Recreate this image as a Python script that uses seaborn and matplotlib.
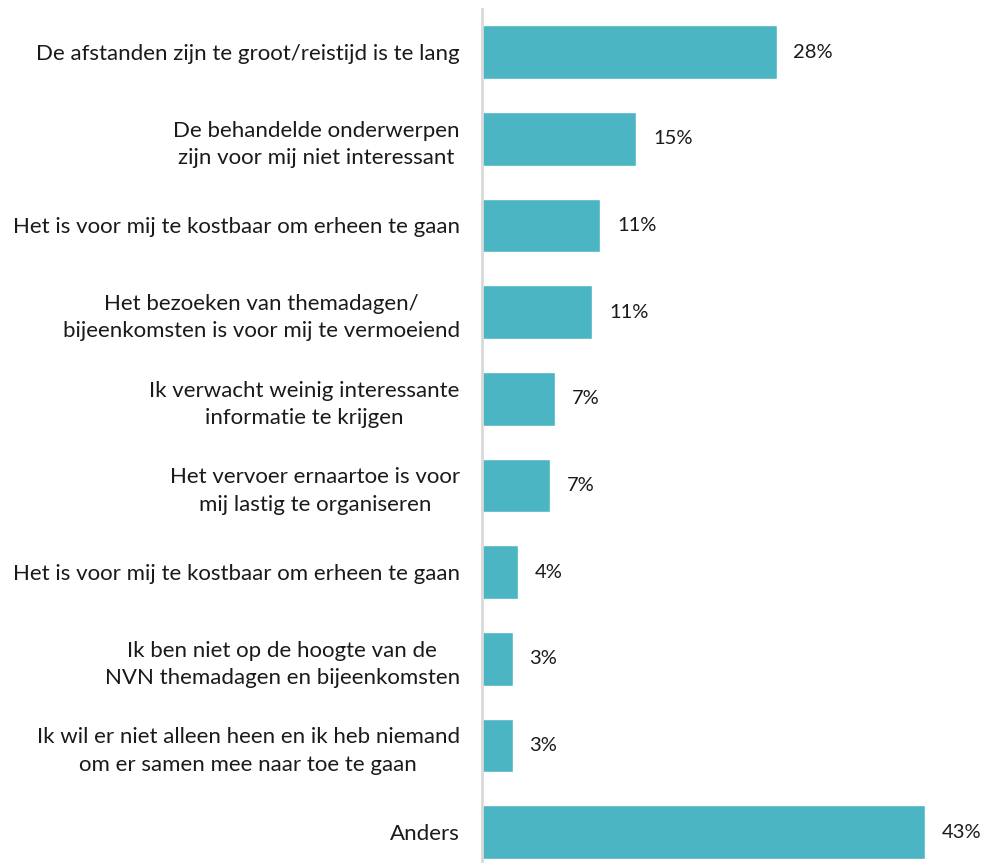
import matplotlib
matplotlib.use("Agg")
import matplotlib.pyplot as plt
import seaborn as sns
import pandas as pd

categories = [
    "De afstanden zijn te groot/reistijd is te lang",
    "De behandelde onderwerpen\nzijn voor mij niet interessant",
    "Het is voor mij te kostbaar om erheen te gaan",
    "Het bezoeken van themadagen/\nbijeenkomsten is voor mij te vermoeiend",
    "Ik verwacht weinig interessante\ninformatie te krijgen",
    "Het vervoer ernaartoe is voor\nmij lastig te organiseren",
    "Het is voor mij te kostbaar om erheen te gaan",
    "Ik ben niet op de hoogte van de\nNVN themadagen en bijeenkomsten",
    "Ik wil er niet alleen heen en ik heb niemand\nom er samen mee naar toe te gaan",
    "Anders",
]
values = [28.6, 15.0, 11.5, 10.7, 7.1, 6.6, 3.5, 3.0, 3.0, 43.0]
labels = ["28%", "15%", "11%", "11%", "7%", "7%", "4%", "3%", "3%", "43%"]

df = pd.DataFrame({"key": [f"c{i}" for i in range(len(categories))], "val": values})

sns.set_style("white")
plt.rcParams["font.family"] = ["Lato", "DejaVu Sans"]

W, H = 987, 863
fig = plt.figure(figsize=(W / 100, H / 100), dpi=100)
ax = fig.add_axes([482 / W, 0, (W - 482) / W, (H - 9) / H])

sns.barplot(data=df, y="key", x="val", orient="h", color="#4BB5C4",
            saturation=1, width=0.62, ax=ax)

ax.set_xlim(0, (W - 482) / 10.3)
ax.set_ylim(9.357, -0.497)
ax.set_xlabel("")
ax.set_ylabel("")
ax.set_xticks([])
for s in ["top", "right", "bottom"]:
    ax.spines[s].set_visible(False)
ax.spines["left"].set_color("#D9D9D9")
ax.spines["left"].set_linewidth(2)

ax.tick_params(axis="y", length=0, pad=16)
ax.set_yticks(range(len(categories)))
ax.set_yticklabels(categories, fontsize=16, color="#1a1a1a",
                   ha="right", multialignment="center", linespacing=1.45)

for i, (v, lab) in enumerate(zip(values, labels)):
    ax.annotate(lab, xy=(v, i), xytext=(12, 0), textcoords="offset points",
                ha="left", va="center", fontsize=14.5, color="#1a1a1a")

fig.savefig("out.png", dpi=100)
